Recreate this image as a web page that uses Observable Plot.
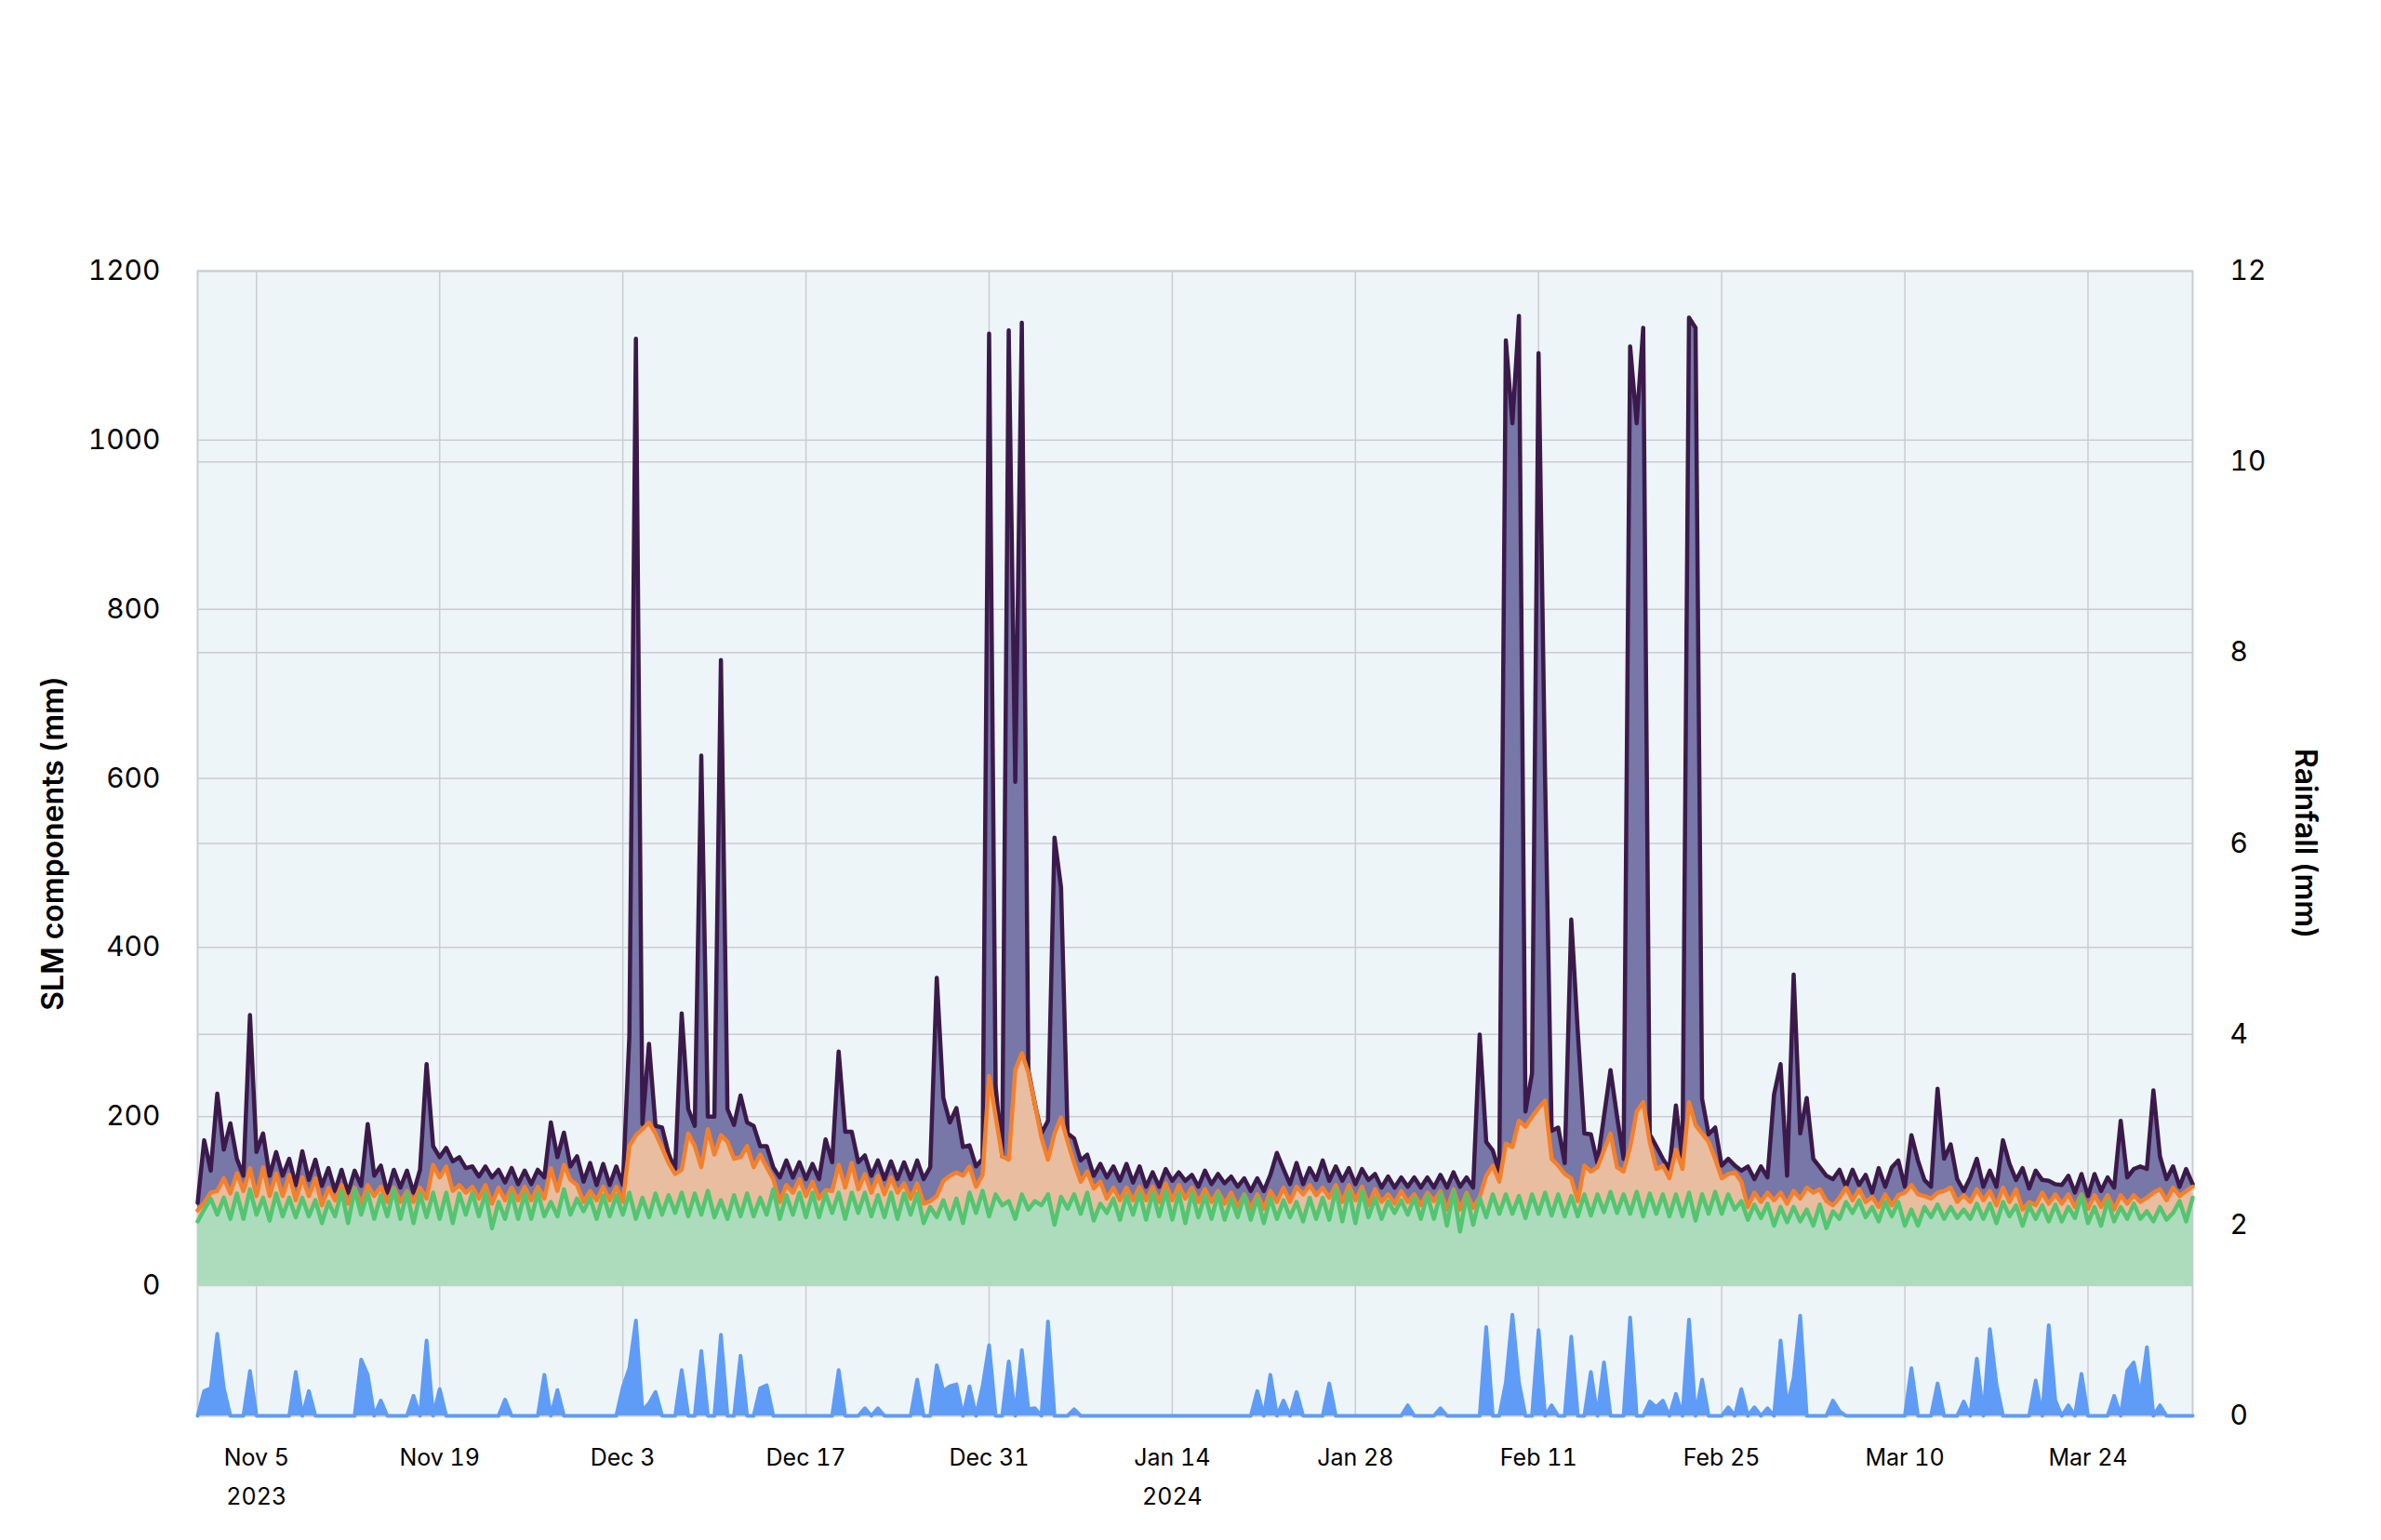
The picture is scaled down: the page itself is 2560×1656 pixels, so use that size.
<!DOCTYPE html>
<html>
<head>
<meta charset="utf-8">
<script src="https://cdn.jsdelivr.net/npm/d3@7"></script>
<script src="https://cdn.jsdelivr.net/npm/@observablehq/plot@0.6"></script>
<style>
  html, body { margin: 0; padding: 0; background: #ffffff; }
  #chart { width: 2560px; height: 1656px; }
</style>
</head>
<body>
<div id="chart"></div>
<script>
// ---- time grid: 12-hourly samples ----
const seriesStart = "2023-10-31T12:00:00Z";
const seriesEnd = "2024-04-01T00:00:00Z";
const stepHours = 12;

// ---- SLM components (mm), cumulative line levels as drawn ----
// top (purple) line
const slmTop = [
  98,172,136,227,161,192,150,130,320,158,
  180,130,158,130,150,119,159,125,149,118,
  139,112,137,110,136,118,191,130,142,110,
  137,116,136,110,137,262,165,152,163,147,
  152,139,141,129,141,128,137,122,139,120,
  136,120,137,128,193,152,181,141,153,123,
  145,119,144,119,141,119,295,1120,191,286,
  189,187,156,137,322,209,189,627,200,200,
  740,209,190,225,193,189,165,165,140,128,
  148,128,146,126,144,126,173,146,277,182,
  182,146,154,130,148,126,147,126,146,126,
  148,126,140,364,222,193,210,164,166,141,
  150,1126,236,153,1130,596,1139,255,215,180,
  195,530,471,180,174,148,155,130,144,128,
  141,124,144,122,141,117,134,117,138,124,
  134,124,131,117,136,120,132,121,129,117,
  127,112,127,112,131,157,138,120,145,120,
  139,125,148,124,141,124,139,120,138,125,
  132,116,129,116,128,117,128,116,128,116,
  131,116,134,117,128,116,297,170,160,134,
  1118,1020,1147,206,251,1103,600,183,187,145,
  433,300,180,179,145,200,255,200,150,1111,
  1020,1133,179,165,150,138,213,149,1145,1133,
  221,179,187,142,150,142,136,141,126,141,
  128,226,262,130,368,180,222,150,140,130,
  126,137,117,137,119,131,110,139,117,140,
  148,117,178,148,125,117,233,150,167,126,
  112,128,150,117,136,117,172,144,125,139,
  115,136,125,124,120,119,130,110,132,106,
  132,112,128,116,195,128,138,141,138,231,
  153,126,141,117,138,120
];
// middle (orange) line
const slmMiddle = [
  89,98,110,112,127,109,133,112,139,106,
  140,106,133,106,131,101,128,106,127,95,
  116,101,119,97,116,97,119,106,117,99,
  116,99,112,99,116,103,143,128,141,112,
  119,110,117,103,119,97,116,101,116,101,
  117,101,117,103,139,112,143,125,119,99,
  112,101,117,101,117,99,165,178,185,193,
  180,163,145,132,137,180,165,140,185,155,
  178,170,150,152,165,140,155,140,126,99,
  119,110,126,106,123,103,113,112,143,116,
  145,114,132,110,130,108,128,110,121,103,
  121,97,100,106,124,130,134,130,141,117,
  131,248,200,153,149,255,275,252,215,175,
  149,180,199,170,145,123,135,115,123,103,
  116,101,116,101,117,101,117,99,121,101,
  119,103,116,99,114,99,112,97,110,93,
  108,91,108,91,112,99,116,99,117,108,
  119,107,116,104,119,99,119,101,117,95,
  114,99,108,97,112,99,108,95,110,100,
  112,90,114,90,110,92,105,130,142,123,
  168,164,195,188,200,210,219,150,142,132,
  127,100,142,135,140,160,180,140,135,164,
  206,217,170,138,142,127,161,138,217,190,
  180,170,150,127,132,134,123,93,110,99,
  110,101,110,97,112,103,116,110,114,100,
  95,104,116,101,114,99,105,93,108,95,
  107,110,119,108,106,103,110,112,116,99,
  107,99,114,101,112,95,116,99,114,90,
  99,95,110,97,108,97,108,93,108,91,
  107,93,107,90,107,97,107,99,104,110,
  114,101,116,106,112,117
];
// base (green) line
const slmBase = [
  76,90,103,84,104,79,109,79,114,84,
  104,77,109,82,104,81,104,82,101,74,
  99,82,112,74,114,84,110,79,107,82,
  114,79,110,74,109,81,110,79,110,74,
  109,84,110,82,110,68,99,79,109,79,
  109,79,110,82,99,82,114,84,103,88,
  104,79,107,82,107,84,110,79,104,81,
  109,84,107,86,110,82,109,84,112,81,
  101,79,107,82,109,82,104,84,114,79,
  107,84,110,81,110,81,109,86,110,79,
  110,86,110,82,107,81,110,79,109,84,
  109,74,93,81,101,79,103,74,110,86,
  112,82,108,95,100,79,108,90,100,95,
  108,72,105,91,108,85,110,77,97,86,
  103,78,107,84,110,78,110,82,112,78,
  110,74,110,81,107,79,109,78,103,81,
  107,78,104,74,104,79,101,81,99,76,
  104,79,104,78,114,76,112,74,112,81,
  104,79,100,86,101,84,104,79,107,79,
  109,71,112,64,107,72,104,81,108,85,
  108,85,106,80,108,85,110,83,108,82,
  106,82,108,83,108,87,111,86,108,85,
  111,82,109,85,108,82,108,82,110,77,
  108,85,111,85,108,90,100,78,96,80,
  97,71,93,75,93,76,90,71,96,68,
  88,79,99,86,101,81,93,76,99,82,
  99,71,90,71,93,81,96,79,93,80,
  90,79,97,79,97,74,99,82,95,71,
  95,79,95,76,96,76,93,80,107,74,
  93,71,101,76,93,79,97,79,88,76,
  93,78,86,100,76,104
];
// ---- rainfall (mm), right axis ----
const rainfall = [
  0,.26,.29,.86,.29,0,0,0,.47,0,
  0,0,0,0,0,.46,0,.26,0,0,
  0,0,0,0,0,.59,.43,0,.16,0,
  0,0,0,.21,0,.79,0,.28,0,0,
  0,0,0,0,0,0,0,.17,0,0,
  0,0,0,.43,0,.27,0,0,0,0,
  0,0,0,0,0,.3,.5,1.0,.05,.13,
  .25,0,0,0,.48,0,0,.68,0,0,
  .85,0,0,.63,0,0,.29,.32,0,0,
  0,0,0,0,0,0,0,0,.48,0,
  0,0,.08,0,.08,0,0,0,0,0,
  .38,0,0,.53,.26,.31,.33,0,.31,0,
  .31,.74,0,0,.57,0,.69,.07,.08,0,
  .99,0,0,0,.07,0,0,0,0,0,
  0,0,0,0,0,0,0,0,0,0,
  0,0,0,0,0,0,0,0,0,0,
  0,0,.26,0,.43,0,.16,0,.25,0,
  0,0,0,.34,0,0,0,0,0,0,
  0,0,0,0,0,.11,0,0,0,0,
  .08,0,0,0,0,0,0,.93,0,0,
  .35,1.06,.35,0,0,.9,0,.11,0,0,
  .83,0,0,.46,0,.56,0,0,0,1.03,
  0,0,.15,.09,.16,0,.23,0,1.01,0,
  .38,0,0,0,.09,0,.28,0,.09,0,
  .08,0,.79,.1,.4,1.05,0,0,0,0,
  .16,.05,0,0,0,0,0,0,0,0,
  0,0,.5,0,0,0,.34,0,0,0,
  .15,0,.6,0,.91,.33,0,0,0,0,
  0,.37,0,.95,.16,0,.11,0,.44,0,
  0,0,0,.21,0,.47,.56,.2,.72,0,
  .11,0,0,0,0,0
];

// ---- axes ----
const leftTicks = [0, 200, 400, 600, 800, 1000, 1200];
const rightTicks = [0, 2, 4, 6, 8, 10, 12];
const xTickDates = ["2023-11-05","2023-11-19","2023-12-03","2023-12-17","2023-12-31","2024-01-14","2024-01-28","2024-02-11","2024-02-25","2024-03-10","2024-03-24"];
const xTickLabels = ["Nov 5","Nov 19","Dec 3","Dec 17","Dec 31","Jan 14","Jan 28","Feb 11","Feb 25","Mar 10","Mar 24"];
const yearTickDates = ["2023-11-05","2024-01-14"];
const yearTickLabels = ["2023","2024"];
const leftTitle = "SLM components (mm)";
const rightTitle = "Rainfall (mm)";

// ---- scales: left axis domain extends below zero to make room for rainfall ----
const leftMin = -154, leftMax = 1200;
const rainMax = 12;
const rainToY = r => leftMin + r * (leftMax - leftMin) / rainMax;
const yToRain = y => (y - leftMin) * rainMax / (leftMax - leftMin);

const t0 = new Date(seriesStart).getTime();
const stepMs = stepHours * 3600 * 1000;
const data = slmTop.map((p, i) => ({
  t: new Date(t0 + i * stepMs),
  top: p,
  mid: slmMiddle[i],
  base: slmBase[i],
  rain: rainToY(rainfall[i])
}));

const xTicks = xTickDates.map(d => new Date(d + "T00:00:00Z"));
const xLabelMap = new Map(xTicks.map((d, i) => [d.getTime(), xTickLabels[i]]));
const yearTicks = yearTickDates.map(d => new Date(d + "T00:00:00Z"));
const yearLabelMap = new Map(yearTicks.map((d, i) => [d.getTime(), yearTickLabels[i]]));
const rightTickPos = rightTicks.map(rainToY);

const gridColor = "#c9cdd1";
const font = "Inter, 'Noto Sans', sans-serif";
const lw = 4.5;

const chart = Plot.plot({
  width: 2560,
  height: 1656,
  marginTop: 291,
  marginBottom: 134,
  marginLeft: 212,
  marginRight: 203,
  style: { fontFamily: font, fontSize: "30px", color: "#000", background: "#ffffff", overflow: "visible" },
  x: { type: "utc", domain: [new Date(seriesStart), new Date(seriesEnd)] },
  y: { domain: [leftMin, leftMax] },
  marks: [
    Plot.frame({ fill: "#edf5f8" }),
    Plot.gridX(xTicks, { stroke: gridColor, strokeOpacity: 1, strokeWidth: 1.5 }),
    Plot.gridY(leftTicks, { stroke: gridColor, strokeOpacity: 1, strokeWidth: 1.5 }),
    Plot.gridY(rightTickPos, { stroke: gridColor, strokeOpacity: 1, strokeWidth: 1.5 }),
    Plot.frame({ stroke: gridColor, strokeWidth: 2 }),
    Plot.areaY(data, { x: "t", y1: 0, y2: "top", fill: "#7777a8" }),
    Plot.areaY(data, { x: "t", y1: 0, y2: "mid", fill: "#e9bea0" }),
    Plot.areaY(data, { x: "t", y1: 0, y2: "base", fill: "#acdcbc" }),
    Plot.areaY(data, { x: "t", y1: leftMin, y2: "rain", fill: "#5f9cf8" }),
    Plot.lineY(data, { x: "t", y: "top", stroke: "#3b1a4b", strokeWidth: lw }),
    Plot.lineY(data, { x: "t", y: "mid", stroke: "#f5802b", strokeWidth: lw }),
    Plot.lineY(data, { x: "t", y: "base", stroke: "#52c571", strokeWidth: lw }),
    Plot.lineY(data, { x: "t", y: "rain", stroke: "#5f9cf8", strokeWidth: 4 }),
    Plot.axisY(leftTicks, { anchor: "left", tickSize: 0, tickPadding: 40, fontSize: 30, label: null,
      tickFormat: d => String(d) }),
    Plot.axisY(rightTickPos, { anchor: "right", tickSize: 0, tickPadding: 40, fontSize: 30, label: null,
      tickFormat: v => String(Math.round(yToRain(v))) }),
    Plot.axisX(xTicks, { anchor: "bottom", tickSize: 0, tickPadding: 36, fontSize: 25, label: null,
      tickFormat: d => xLabelMap.get(d.getTime()) }),
    Plot.axisX(yearTicks, { anchor: "bottom", tickSize: 0, tickPadding: 78, fontSize: 25, label: null,
      tickFormat: d => yearLabelMap.get(d.getTime()) }),
    Plot.text([leftTitle], { frameAnchor: "left", dx: -155, rotate: -90, textAnchor: "middle", text: d => d,
      fontSize: 32, fontWeight: 600, fill: "#000" }),
    Plot.text([rightTitle], { frameAnchor: "right", dx: 121, rotate: 90, textAnchor: "middle", text: d => d,
      fontSize: 32, fontWeight: 600, fill: "#000" })
  ]
});
document.getElementById("chart").appendChild(chart);
</script>
</body>
</html>
